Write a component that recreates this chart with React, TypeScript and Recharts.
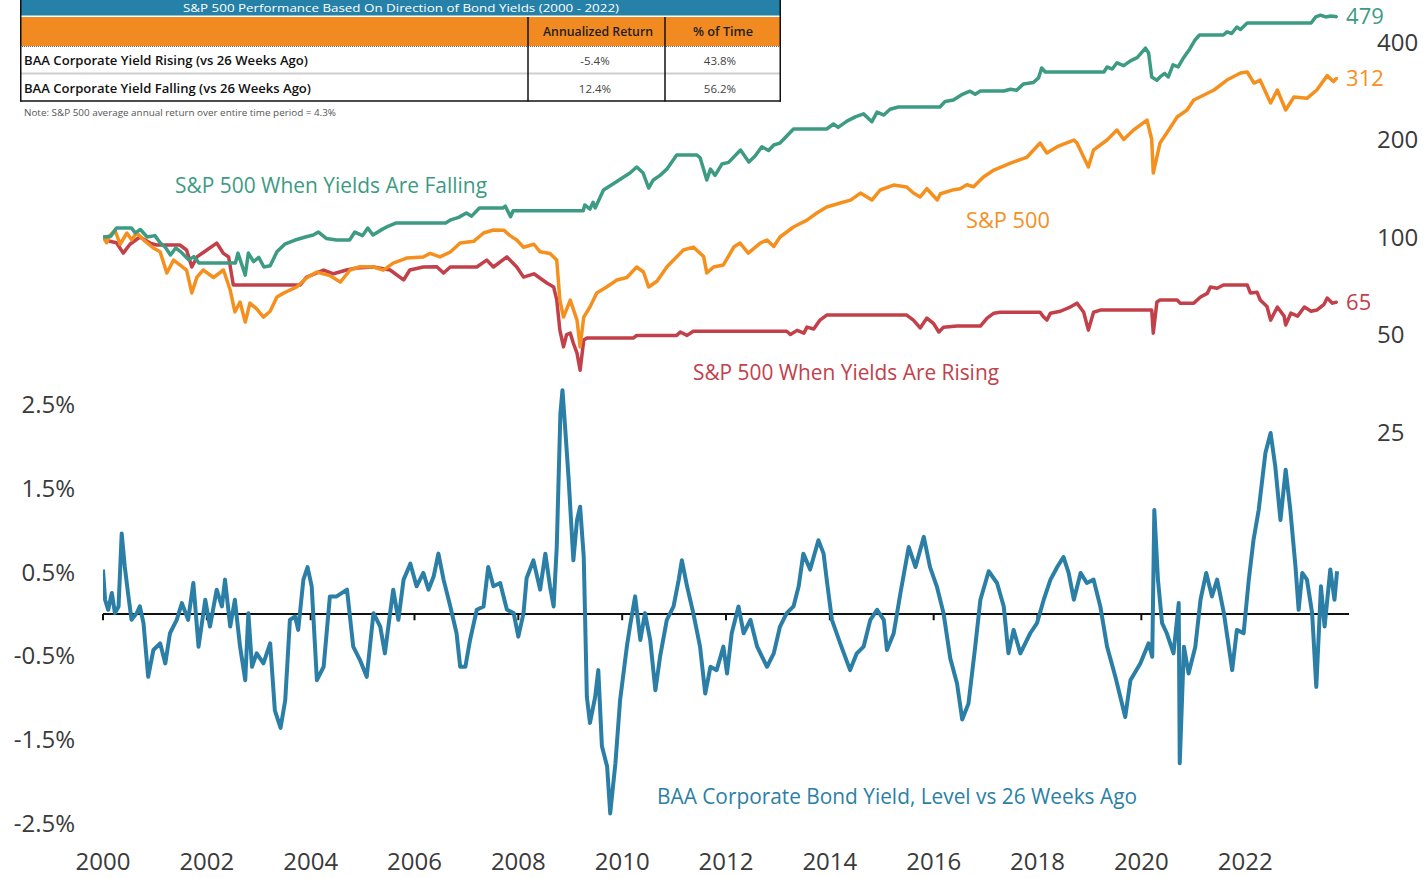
import React from "react";
import { ComposedChart, Line, XAxis, YAxis, ReferenceLine, ReferenceDot } from "recharts";

const FONT = "'Open Sans', 'Noto Sans', sans-serif";

const GREEN = "#3c9b82";
const ORANGE = "#f5901e";
const RED = "#c2404a";
const BLUE = "#2b7fa6";
const AXIS_TEXT = "#3a3a3a";

// x-axis ticks (years) and y-axis ticks
const yearTicks = [2000, 2002, 2004, 2006, 2008, 2010, 2012, 2014, 2016, 2018, 2020, 2022];
const logTicks = [25, 50, 100, 200, 400];
const pctTicks = [-2.5, -1.5, -0.5, 0.5, 1.5, 2.5];

// S&P 500 When Yields Are Falling (index, 2000 = 100) [year, value]
const fallingPoints: [number, number][] = [
  [2000.0, 100], [2000.15, 100.5], [2000.26, 106.6], [2000.55, 106.6], [2000.62, 103], [2000.72, 105.5],
  [2000.85, 100], [2001.0, 101], [2001.1, 96], [2001.2, 93], [2001.3, 88], [2001.4, 92.5], [2001.5, 90],
  [2001.65, 85], [2001.75, 87], [2001.85, 83.1], [2002.55, 83.1], [2002.6, 89.2], [2002.74, 76.3],
  [2002.8, 89.2], [2002.9, 84], [2003.0, 86.5], [2003.1, 80.8], [2003.22, 81.5], [2003.35, 90], [2003.5, 95],
  [2003.7, 97.9], [2003.9, 100], [2004.05, 101.4], [2004.15, 103.6], [2004.3, 99], [2004.5, 97.9],
  [2004.75, 97.9], [2004.85, 103.6], [2005.0, 101], [2005.1, 106.6], [2005.2, 101.4], [2005.35, 105],
  [2005.5, 108.1], [2005.65, 110.5], [2006.6, 110.5], [2006.7, 113], [2006.85, 115], [2007.0, 118.6],
  [2007.1, 116], [2007.25, 122.9], [2007.7, 122.9], [2007.75, 124.5], [2007.85, 115.5], [2007.9, 120.5],
  [2009.25, 120.5], [2009.28, 125.6], [2009.38, 122], [2009.44, 128], [2009.48, 123], [2009.64, 139.7],
  [2009.83, 146], [2010.03, 153.2], [2010.15, 157.6], [2010.28, 164.5], [2010.4, 158], [2010.51, 141.7],
  [2010.6, 150], [2010.73, 155], [2010.86, 162], [2011.05, 179.1], [2011.44, 179.1], [2011.5, 176],
  [2011.63, 150], [2011.7, 162], [2011.79, 155], [2011.92, 168], [2012.05, 170], [2012.28, 185.6],
  [2012.44, 170.4], [2012.56, 178], [2012.69, 190], [2012.82, 185], [2012.92, 192.3], [2013.04, 195],
  [2013.17, 205], [2013.3, 215.5], [2013.94, 215.5], [2014.07, 223.3], [2014.16, 218], [2014.33, 228],
  [2014.49, 235], [2014.65, 240], [2014.81, 227], [2014.91, 243], [2015.04, 238], [2015.16, 248],
  [2015.32, 252], [2016.12, 252], [2016.22, 262], [2016.38, 265], [2016.54, 275], [2016.7, 282],
  [2016.8, 276], [2016.9, 282.3], [2017.35, 282.3], [2017.48, 286], [2017.6, 284], [2017.73, 297],
  [2017.92, 300], [2018.02, 310], [2018.08, 332.5], [2018.15, 323.2], [2019.28, 323.2], [2019.34, 335],
  [2019.44, 330], [2019.53, 345], [2019.66, 338], [2019.79, 350], [2019.92, 358], [2020.08, 383],
  [2020.14, 370], [2020.2, 312], [2020.3, 305], [2020.36, 312], [2020.45, 320], [2020.52, 312],
  [2020.61, 340], [2020.71, 335], [2020.8, 355], [2020.93, 380], [2021.03, 405], [2021.12, 420.4],
  [2021.58, 420.4], [2021.65, 430], [2021.74, 425], [2021.84, 445], [2021.91, 437], [2022.04, 458],
  [2023.27, 458], [2023.36, 478], [2023.45, 484], [2023.55, 478], [2023.65, 481], [2023.77, 479],
];

// S&P 500 (index, 2000 = 100)
const spxPoints: [number, number][] = [
  [2000.0, 100], [2000.07, 96], [2000.13, 101], [2000.23, 105], [2000.33, 95], [2000.46, 102.9],
  [2000.55, 98], [2000.65, 103], [2000.78, 98], [2000.97, 92.5], [2001.1, 90], [2001.23, 77.4],
  [2001.36, 84.9], [2001.48, 82], [2001.61, 79], [2001.71, 67.2], [2001.81, 75.2], [2001.93, 79.1],
  [2002.13, 75], [2002.32, 79.1], [2002.45, 68.6], [2002.54, 58.7], [2002.64, 63], [2002.74, 54.6],
  [2002.83, 62.5], [2002.96, 60], [2003.09, 56.6], [2003.22, 59], [2003.35, 65.3], [2003.47, 67],
  [2003.6, 68.6], [2003.73, 70.1], [2003.92, 74.7], [2004.12, 78], [2004.37, 76], [2004.57, 72.6],
  [2004.76, 79.1], [2004.95, 81], [2005.21, 80.8], [2005.4, 79], [2005.59, 83.1], [2005.85, 86.1],
  [2006.17, 86.8], [2006.3, 89], [2006.49, 86.8], [2006.69, 89.9], [2006.88, 95.8], [2007.14, 97],
  [2007.33, 102.9], [2007.52, 105.1], [2007.72, 105], [2007.84, 101], [2007.97, 97.9], [2008.1, 93],
  [2008.3, 95], [2008.42, 90], [2008.61, 89], [2008.74, 84.9], [2008.8, 63.9], [2008.87, 56.6],
  [2009.0, 63.9], [2009.13, 55.4], [2009.19, 45.8], [2009.26, 56.6], [2009.38, 60.8], [2009.51, 67.2],
  [2009.7, 70.1], [2009.9, 73.7], [2010.09, 75], [2010.28, 80.8], [2010.41, 78], [2010.51, 70.1],
  [2010.67, 73], [2010.86, 80.8], [2010.99, 84.9], [2011.18, 91.2], [2011.37, 93.1], [2011.57, 87],
  [2011.63, 77.4], [2011.76, 80.8], [2011.95, 82], [2012.15, 93.1], [2012.27, 95.8], [2012.43, 89.2],
  [2012.66, 95.8], [2012.79, 97.9], [2012.92, 93.5], [2013.04, 100], [2013.3, 107.4], [2013.56, 112.8],
  [2013.75, 118.6], [2013.94, 123.8], [2014.2, 127.4], [2014.4, 130], [2014.59, 136.7], [2014.81, 130.1],
  [2014.97, 139.7], [2015.23, 144.7], [2015.48, 142.7], [2015.61, 136.7], [2015.74, 132.9], [2015.87, 141],
  [2016.07, 130.1], [2016.13, 136], [2016.39, 140], [2016.51, 141], [2016.64, 145], [2016.77, 143],
  [2016.9, 150], [2016.96, 153.2], [2017.16, 161], [2017.48, 169.2], [2017.8, 176.6], [2018.05, 195.1],
  [2018.18, 181.7], [2018.38, 190], [2018.7, 199.3], [2018.76, 195], [2018.98, 164.5], [2019.08, 185.6],
  [2019.34, 199.3], [2019.53, 214], [2019.66, 200], [2019.85, 214], [2020.11, 229.7], [2020.2, 200],
  [2020.23, 157.6], [2020.36, 195.1], [2020.49, 209.5], [2020.69, 234.7], [2020.88, 246.7], [2021.01, 264.8],
  [2021.4, 284.4], [2021.65, 305.3], [2021.91, 320.9], [2022.04, 323.2], [2022.17, 298.8], [2022.29, 305],
  [2022.49, 259.2], [2022.62, 284.4], [2022.78, 246.7], [2022.94, 270.6], [2023.19, 268], [2023.38, 284.4],
  [2023.58, 315], [2023.7, 302], [2023.77, 310],
];

// S&P 500 When Yields Are Rising (index, 2000 = 100)
const risingPoints: [number, number][] = [
  [2000.0, 100], [2000.13, 97], [2000.26, 96], [2000.39, 89.2], [2000.52, 95], [2000.71, 100],
  [2000.91, 95.8], [2001.03, 94.5], [2001.48, 94.5], [2001.61, 91.2], [2001.71, 80.8], [2001.81, 86.8],
  [2002.0, 91.2], [2002.19, 95.8], [2002.32, 89], [2002.42, 86.8], [2002.51, 71.1], [2003.8, 71.1],
  [2003.92, 75.2], [2004.25, 79.1], [2004.44, 77], [2004.69, 79.1], [2004.89, 80.2], [2005.21, 80.8],
  [2005.53, 79.1], [2005.79, 73.7], [2005.91, 79.1], [2006.17, 80.8], [2006.43, 81], [2006.56, 77.4],
  [2006.69, 80.8], [2007.2, 80.8], [2007.39, 84.9], [2007.52, 80.8], [2007.78, 86.8], [2007.97, 80.8],
  [2008.1, 75.2], [2008.3, 77], [2008.55, 72.1], [2008.68, 70.1], [2008.74, 64], [2008.8, 51.6],
  [2008.87, 45.8], [2008.93, 50], [2009.0, 50.5], [2009.06, 47], [2009.13, 43.8], [2009.19, 38.8],
  [2009.26, 48.1], [2009.32, 48.8], [2010.22, 48.8], [2010.28, 49.7], [2011.05, 49.7], [2011.12, 50.9],
  [2011.25, 49.7], [2011.37, 51.2], [2013.17, 51.2], [2013.24, 50], [2013.37, 51.5], [2013.5, 50.5],
  [2013.56, 52.7], [2013.69, 52], [2013.81, 55.4], [2013.94, 57.4], [2015.48, 57.4], [2015.61, 55.4],
  [2015.74, 52.4], [2015.87, 56.2], [2016.0, 54], [2016.1, 50.9], [2016.19, 52.7], [2016.45, 53.1],
  [2016.9, 53.1], [2017.03, 56.2], [2017.16, 58.2], [2017.28, 58.6], [2018.05, 58.6], [2018.12, 56.6],
  [2018.18, 55.4], [2018.25, 58.2], [2018.44, 59], [2018.63, 60.8], [2018.76, 62.5], [2018.89, 58.6],
  [2018.98, 51.6], [2019.08, 58.6], [2019.21, 59.5], [2020.2, 59.5], [2020.23, 50.5], [2020.3, 63],
  [2020.36, 63.9], [2020.69, 63.9], [2020.75, 62.5], [2021.01, 62.5], [2021.14, 65.3], [2021.27, 67],
  [2021.33, 70.1], [2021.46, 69.5], [2021.58, 71.1], [2022.04, 71.1], [2022.1, 67.2], [2022.23, 67.5],
  [2022.29, 63.9], [2022.42, 61], [2022.49, 55.4], [2022.62, 60.8], [2022.75, 57], [2022.78, 53.5],
  [2022.88, 58.2], [2023.01, 57], [2023.14, 60.8], [2023.27, 59], [2023.38, 59.5], [2023.52, 62],
  [2023.58, 64.8], [2023.68, 62.5], [2023.77, 63],
];

// BAA Corporate Bond Yield, level vs 26 weeks ago (percentage points)
const baaPoints: [number, number][] = [
  [2000.0, 0.53], [2000.04, 0.17], [2000.1, 0.05], [2000.17, 0.25], [2000.23, 0.01], [2000.3, 0.09],
  [2000.36, 0.96], [2000.42, 0.56], [2000.49, 0.21], [2000.55, -0.07], [2000.65, 0.01], [2000.71, 0.09],
  [2000.78, -0.11], [2000.87, -0.75], [2000.97, -0.43], [2001.1, -0.35], [2001.2, -0.59], [2001.29, -0.23],
  [2001.42, -0.07], [2001.52, 0.13], [2001.64, -0.07], [2001.74, 0.37], [2001.84, -0.39], [2001.97, 0.17],
  [2002.06, -0.15], [2002.19, 0.29], [2002.29, 0.09], [2002.35, 0.41], [2002.45, -0.15], [2002.54, 0.17],
  [2002.64, -0.39], [2002.74, -0.79], [2002.8, 0.01], [2002.87, -0.63], [2002.96, -0.47], [2003.09, -0.59],
  [2003.22, -0.35], [2003.31, -1.15], [2003.42, -1.36], [2003.51, -1.03], [2003.6, -0.07], [2003.7, -0.03],
  [2003.76, -0.19], [2003.86, 0.41], [2003.94, 0.56], [2004.02, 0.33], [2004.12, -0.79], [2004.25, -0.63],
  [2004.37, 0.21], [2004.5, 0.21], [2004.7, 0.29], [2004.82, -0.39], [2004.95, -0.55], [2005.08, -0.75],
  [2005.21, 0.01], [2005.34, -0.15], [2005.43, -0.47], [2005.53, 0.01], [2005.59, 0.29], [2005.69, -0.07],
  [2005.79, 0.41], [2005.92, 0.6], [2006.04, 0.33], [2006.17, 0.49], [2006.27, 0.29], [2006.37, 0.45],
  [2006.46, 0.72], [2006.56, 0.41], [2006.69, 0.09], [2006.81, -0.23], [2006.88, -0.63], [2006.98, -0.63],
  [2007.07, -0.31], [2007.2, 0.05], [2007.33, 0.09], [2007.42, 0.56], [2007.52, 0.33], [2007.65, 0.37],
  [2007.78, 0.05], [2007.91, 0.01], [2008.0, -0.27], [2008.1, 0.01], [2008.16, 0.43], [2008.29, 0.64],
  [2008.42, 0.29], [2008.52, 0.72], [2008.61, 0.33], [2008.68, 0.09], [2008.74, 0.8], [2008.81, 2.39],
  [2008.85, 2.67], [2008.9, 2.24], [2008.97, 1.6], [2009.03, 0.96], [2009.06, 0.64], [2009.13, 1.12],
  [2009.19, 1.28], [2009.26, 0.68], [2009.32, -0.99], [2009.38, -1.3], [2009.48, -0.99], [2009.54, -0.67],
  [2009.61, -1.58], [2009.71, -1.82], [2009.77, -2.38], [2009.87, -1.78], [2009.96, -1.03], [2010.09, -0.39],
  [2010.15, -0.15], [2010.25, 0.21], [2010.35, -0.31], [2010.44, 0.01], [2010.54, -0.31], [2010.64, -0.91],
  [2010.73, -0.51], [2010.86, -0.07], [2010.99, 0.09], [2011.09, 0.41], [2011.15, 0.64], [2011.25, 0.33],
  [2011.37, 0.01], [2011.5, -0.39], [2011.6, -0.95], [2011.7, -0.63], [2011.82, -0.67], [2011.95, -0.39],
  [2012.02, -0.71], [2012.11, -0.23], [2012.24, 0.09], [2012.34, -0.23], [2012.47, -0.07], [2012.6, -0.39],
  [2012.79, -0.63], [2012.92, -0.47], [2013.04, -0.15], [2013.17, 0.01], [2013.3, 0.09], [2013.4, 0.33],
  [2013.49, 0.72], [2013.62, 0.53], [2013.78, 0.88], [2013.88, 0.72], [2013.94, 0.41], [2014.04, -0.07],
  [2014.2, -0.35], [2014.39, -0.67], [2014.52, -0.47], [2014.65, -0.39], [2014.78, -0.07], [2014.91, 0.05],
  [2015.04, -0.07], [2015.1, -0.43], [2015.23, -0.23], [2015.36, 0.25], [2015.52, 0.8], [2015.65, 0.56],
  [2015.81, 0.92], [2015.93, 0.56], [2016.06, 0.33], [2016.19, 0.01], [2016.32, -0.53], [2016.45, -0.83],
  [2016.55, -1.26], [2016.67, -1.07], [2016.8, -0.39], [2016.9, 0.17], [2017.06, 0.51], [2017.22, 0.37],
  [2017.35, 0.09], [2017.44, -0.47], [2017.54, -0.19], [2017.67, -0.47], [2017.86, -0.23], [2017.99, -0.11],
  [2018.12, 0.17], [2018.25, 0.41], [2018.38, 0.56], [2018.5, 0.68], [2018.6, 0.49], [2018.7, 0.17],
  [2018.83, 0.49], [2018.95, 0.37], [2019.08, 0.41], [2019.21, 0.09], [2019.34, -0.39], [2019.5, -0.75],
  [2019.69, -1.23], [2019.79, -0.79], [2019.98, -0.59], [2020.14, -0.35], [2020.21, -0.51], [2020.25, 1.24],
  [2020.32, 0.41], [2020.4, -0.11], [2020.49, -0.23], [2020.62, -0.47], [2020.72, 0.13], [2020.74, -1.78],
  [2020.82, -0.39], [2020.91, -0.71], [2021.04, -0.39], [2021.14, 0.17], [2021.25, 0.49], [2021.36, 0.21],
  [2021.46, 0.41], [2021.59, 0.01], [2021.75, -0.67], [2021.84, -0.19], [2021.97, -0.23], [2022.07, 0.41],
  [2022.16, 0.88], [2022.26, 1.24], [2022.39, 1.92], [2022.49, 2.16], [2022.58, 1.76], [2022.68, 1.12],
  [2022.78, 1.72], [2022.87, 1.24], [2022.97, 0.56], [2023.03, 0.05], [2023.1, 0.49], [2023.19, 0.41],
  [2023.29, 0.01], [2023.37, -0.87], [2023.46, 0.33], [2023.53, -0.15], [2023.64, 0.53], [2023.72, 0.17],
  [2023.77, 0.51],
];

// Table contents
const tableTitle = "S&P 500 Performance Based On Direction of Bond Yields (2000 - 2022)";
const tableHeaders = ["Annualized Return", "% of Time"];
const tableRows: [string, string, string][] = [
  ["BAA Corporate Yield Rising (vs 26 Weeks Ago)", "-5.4%", "43.8%"],
  ["BAA Corporate Yield Falling (vs 26 Weeks Ago)", "12.4%", "56.2%"],
];
const tableNote = "Note: S&P 500 average annual return over entire time period = 4.3%";

const endLabels = { falling: "479", spx: "312", rising: "65" };

const toData = (pts: [number, number][]) => pts.map(([t, v]) => ({ t, v }));
const fallingData = toData(fallingPoints);
const spxData = toData(spxPoints);
const risingData = toData(risingPoints);
const baaData = toData(baaPoints);

const last = (pts: [number, number][]) => pts[pts.length - 1];

const pctFmt = (v: number) => `${v.toFixed(1)}%`;

function Overlay() {
  return (
    <svg
      width={1424}
      height={878}
      style={{ position: "absolute", left: 0, top: 0, pointerEvents: "none" }}
    >
      {/* table */}
      <rect x={20} y={0} width={761} height={15.5} fill="#2581a8" />
      <text x={401} y={12} fontSize={11} fill="#ffffff" fontFamily={FONT} textAnchor="middle" textLength={436} lengthAdjust="spacingAndGlyphs">
        {tableTitle}
      </text>
      <rect x={20} y={17} width={761} height={29} fill="#f18a21" />
      <text x={598} y={36} fontSize={12} fontWeight={600} fill="#1e1e1e" fontFamily={FONT} textAnchor="middle" textLength={110} lengthAdjust="spacingAndGlyphs">
        {tableHeaders[0]}
      </text>
      <text x={723} y={36} fontSize={12} fontWeight={600} fill="#1e1e1e" fontFamily={FONT} textAnchor="middle" textLength={60} lengthAdjust="spacingAndGlyphs">
        {tableHeaders[1]}
      </text>
      <line x1={20} y1={46.5} x2={781} y2={46.5} stroke="#666" strokeWidth={1} strokeDasharray="1 1" />
      <line x1={20} y1={73.5} x2={781} y2={73.5} stroke="#cfcfcf" strokeWidth={2} />
      {tableRows.map((r, i) => (
        <g key={i}>
          <text x={24} y={65 + i * 28} fontSize={12} fontWeight={600} fill="#111" fontFamily={FONT} textLength={i === 0 ? 284 : 287} lengthAdjust="spacingAndGlyphs">
            {r[0]}
          </text>
          <text x={595} y={65 + i * 28} fontSize={11.5} fill="#444" fontFamily={FONT} textAnchor="middle">
            {r[1]}
          </text>
          <text x={720} y={65 + i * 28} fontSize={11.5} fill="#444" fontFamily={FONT} textAnchor="middle">
            {r[2]}
          </text>
        </g>
      ))}
      <line x1={20.75} y1={0} x2={20.75} y2={101.5} stroke="#111" strokeWidth={1.5} />
      <line x1={780.25} y1={0} x2={780.25} y2={101.5} stroke="#111" strokeWidth={1.5} />
      <line x1={528} y1={17} x2={528} y2={101.5} stroke="#111" strokeWidth={1.5} />
      <line x1={665} y1={17} x2={665} y2={101.5} stroke="#111" strokeWidth={1.5} />
      <line x1={20} y1={101} x2={781} y2={101} stroke="#111" strokeWidth={1.5} />
      <text x={24} y={116} fontSize={9} fill="#555" fontFamily={FONT} textLength={312} lengthAdjust="spacingAndGlyphs">
        {tableNote}
      </text>

      {/* series annotations */}
      <text x={175} y={193} fontSize={22} fill={GREEN} fontFamily={FONT} textLength={312} lengthAdjust="spacingAndGlyphs">
        S&amp;P 500 When Yields Are Falling
      </text>
      <text x={966} y={228} fontSize={22} fill={ORANGE} fontFamily={FONT} textLength={84} lengthAdjust="spacingAndGlyphs">
        S&amp;P 500
      </text>
      <text x={693} y={380} fontSize={21} fill={RED} fontFamily={FONT} textLength={306} lengthAdjust="spacingAndGlyphs">
        S&amp;P 500 When Yields Are Rising
      </text>
      <text x={657} y={804} fontSize={22} fill={BLUE} fontFamily={FONT} textLength={480} lengthAdjust="spacingAndGlyphs">
        BAA Corporate Bond Yield, Level vs 26 Weeks Ago
      </text>
    </svg>
  );
}

export default function App() {
  const lf = last(fallingPoints);
  const ls = last(spxPoints);
  const lr = last(risingPoints);
  return (
    <div style={{ position: "absolute", left: 0, top: 0, width: 1424, height: 878, background: "#ffffff" }}>
      <ComposedChart width={1424} height={878} margin={{ top: 0, right: 0, bottom: 0, left: 0 }}>
        <XAxis
          type="number"
          dataKey="t"
          domain={[2000, 2024]}
          allowDataOverflow
          ticks={yearTicks}
          interval={0}
          axisLine={false}
          tickLine={false}
          tickSize={0}
          tickMargin={8}
          height={33}
          tick={{ fontSize: 24, fill: AXIS_TEXT, fontFamily: FONT }}
        />
        <YAxis
          yAxisId="pct"
          orientation="left"
          type="number"
          width={103}
          domain={[-2.757, 7.327]}
          allowDataOverflow
          ticks={pctTicks}
          interval={0}
          tickFormatter={pctFmt}
          axisLine={false}
          tickLine={false}
          tickSize={0}
          tickMargin={28}
          tick={{ fontSize: 24, fill: AXIS_TEXT, fontFamily: FONT }}
        />
        <YAxis
          yAxisId="log"
          orientation="right"
          type="number"
          scale="log"
          width={75}
          domain={[1.3276, 539.2]}
          allowDataOverflow
          ticks={logTicks}
          interval={0}
          axisLine={false}
          tickLine={false}
          tickSize={0}
          tickMargin={28}
          tick={{ fontSize: 24, fill: AXIS_TEXT, fontFamily: FONT }}
        />
        <ReferenceLine yAxisId="pct" y={0} stroke="#111" strokeWidth={2} />
        {yearTicks.map((yr) => (
          <ReferenceLine
            key={yr}
            yAxisId="pct"
            segment={[{ x: yr, y: 0 }, { x: yr, y: -0.075 }]}
            stroke="#111"
            strokeWidth={2}
          />
        ))}
        <Line
          yAxisId="pct"
          data={baaData}
          dataKey="v"
          type="linear"
          stroke={BLUE}
          strokeWidth={4}
          dot={false}
          isAnimationActive={false}
          strokeLinejoin="round"
        />
        <Line
          yAxisId="log"
          data={risingData}
          dataKey="v"
          type="linear"
          stroke={RED}
          strokeWidth={3.5}
          dot={false}
          isAnimationActive={false}
          strokeLinejoin="round"
        />
        <Line
          yAxisId="log"
          data={spxData}
          dataKey="v"
          type="linear"
          stroke={ORANGE}
          strokeWidth={3.5}
          dot={false}
          isAnimationActive={false}
          strokeLinejoin="round"
        />
        <Line
          yAxisId="log"
          data={fallingData}
          dataKey="v"
          type="linear"
          stroke={GREEN}
          strokeWidth={3.5}
          dot={false}
          isAnimationActive={false}
          strokeLinejoin="round"
        />
        <ReferenceDot
          yAxisId="log"
          x={lf[0]}
          y={lf[1]}
          r={1}
          fill={GREEN}
          stroke="none"
          label={{ value: endLabels.falling, position: "right", offset: 8, fill: GREEN, fontSize: 22, fontFamily: FONT }}
        />
        <ReferenceDot
          yAxisId="log"
          x={ls[0]}
          y={ls[1]}
          r={1}
          fill={ORANGE}
          stroke="none"
          label={{ value: endLabels.spx, position: "right", offset: 8, fill: ORANGE, fontSize: 22, fontFamily: FONT }}
        />
        <ReferenceDot
          yAxisId="log"
          x={lr[0]}
          y={lr[1]}
          r={1}
          fill={RED}
          stroke="none"
          label={{ value: endLabels.rising, position: "right", offset: 8, fill: RED, fontSize: 22, fontFamily: FONT }}
        />
      </ComposedChart>
      <Overlay />
    </div>
  );
}
